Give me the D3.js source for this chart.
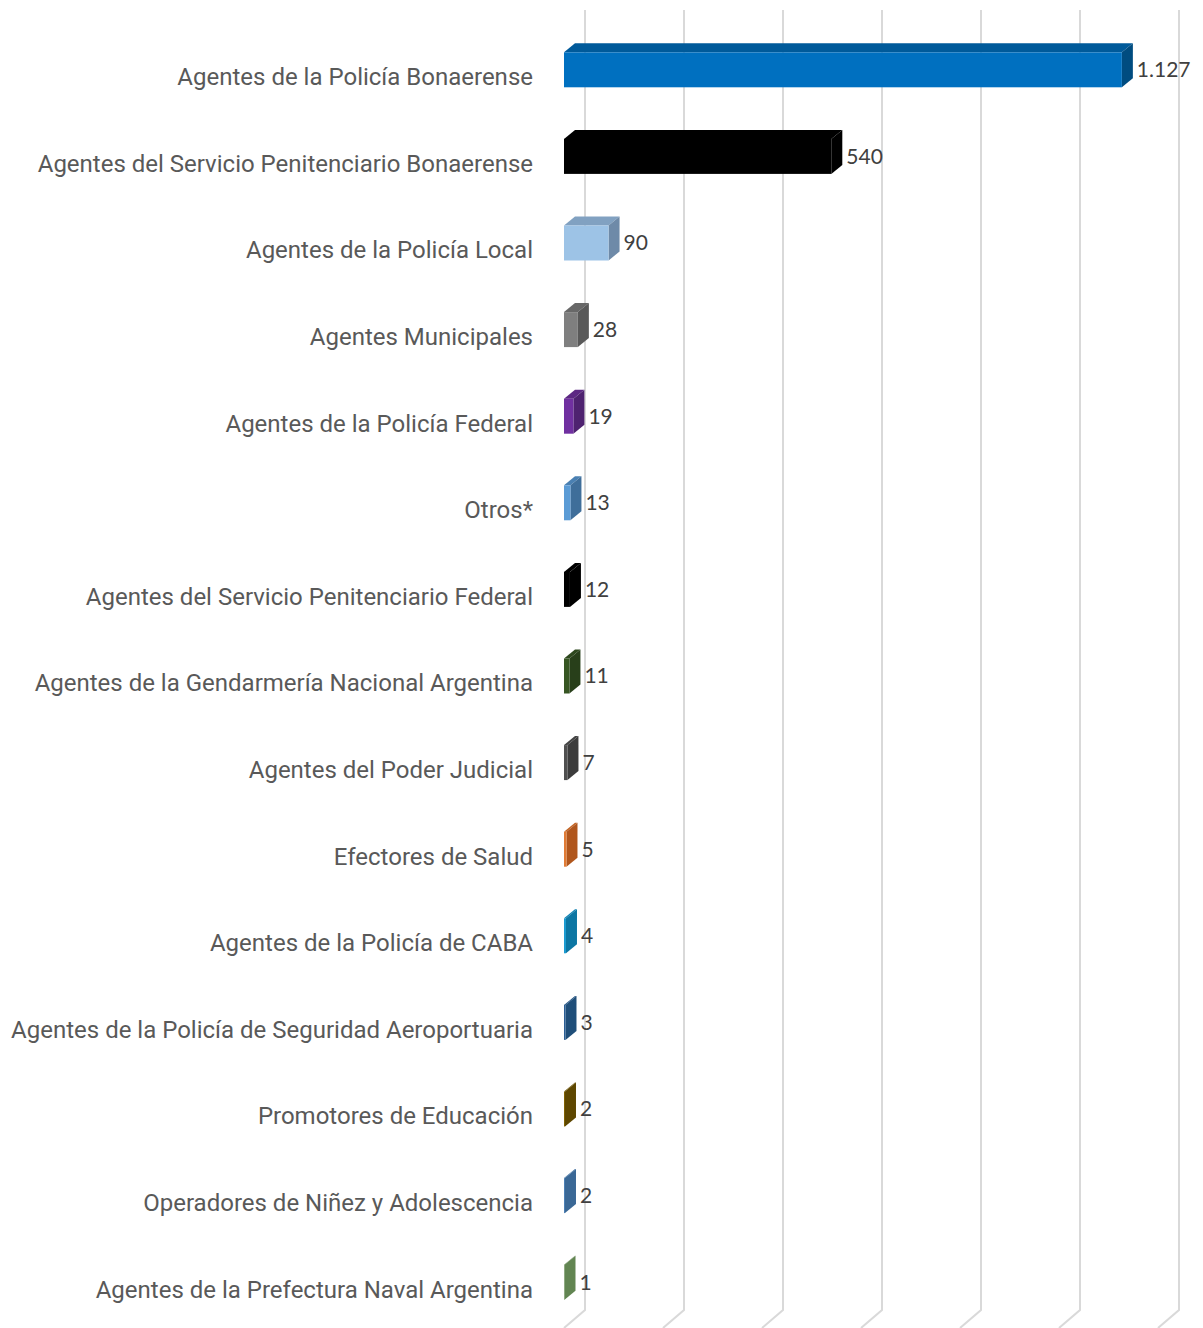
<!DOCTYPE html>
<html>
<head>
<meta charset="utf-8">
<script src="https://cdn.jsdelivr.net/npm/d3@7"></script>
<style>
html,body{margin:0;padding:0;background:#fff;}
svg{display:block;}
</style>
</head>
<body>
<svg id="chart" width="1203" height="1328"></svg>
<script>
const categories = [
  "Agentes de la Policía Bonaerense",
  "Agentes del Servicio Penitenciario Bonaerense",
  "Agentes de la Policía Local",
  "Agentes Municipales",
  "Agentes de la Policía Federal",
  "Otros*",
  "Agentes del Servicio Penitenciario Federal",
  "Agentes de la Gendarmería Nacional Argentina",
  "Agentes del Poder Judicial",
  "Efectores de Salud",
  "Agentes de la Policía de CABA",
  "Agentes de la Policía de Seguridad Aeroportuaria",
  "Promotores de Educación",
  "Operadores de Niñez y Adolescencia",
  "Agentes de la Prefectura Naval Argentina"
];
const values = [1127, 540, 90, 28, 19, 13, 12, 11, 7, 5, 4, 3, 2, 2, 1];
const frontColors = [
  "#0070C0", "#000000", "#9DC3E6", "#7F7F7F", "#7030A0",
  "#5B9BD5", "#000000", "#375623", "#505050", "#E07B35",
  "#1A9AD0", "#2A5E95", "#7F6000", "#4A7FB5", "#70935E"
];
const sideColors = [
  "#004C80", "#000000", "#6E8AA8", "#595959", "#4E2270",
  "#3F6E9A", "#000000", "#283F1A", "#3C3C3C", "#B0561C",
  "#0C76A3", "#1F4E79", "#5E4700", "#3A6896", "#628552"
];
const xTicks = [0, 200, 400, 600, 800, 1000, 1200];

const svg = d3.select("#chart");

const x = d3.scaleLinear().domain([0, 1200]).range([564, 1158]);
const step = 86.6;
const y = d3.scaleBand().domain(categories)
  .range([26.5, 26.5 + categories.length * step])
  .paddingInner(0.596).paddingOuter(0.298);

const wallDX = 21, wallDY = -18;
const gridTop = 10, gridBottom = 1310;
const bDX = 11, bDY = -9;

const fmt = d3.formatLocale({decimal: ",", thousands: ".", grouping: [3], currency: ["$", ""]}).format(",d");

// gridlines (back wall + floor)
svg.append("g").attr("class", "grid")
  .selectAll("path").data(xTicks).join("path")
  .attr("d", t => {
    const bx = x(t) + wallDX;
    return `M${bx},${gridTop}L${bx},${gridBottom}L${x(t)},${gridBottom - wallDY}`;
  })
  .attr("fill", "none")
  .attr("stroke", "#D9D9D9")
  .attr("stroke-width", 2);

// bars
svg.append("g").attr("class", "bars")
  .selectAll("g").data(categories).join("g")
  .each(function(c, i) {
    const g = d3.select(this);
    const x0 = x(0), x1 = x(values[i]);
    const y0 = y(c), y1 = y(c) + y.bandwidth();
    const front = frontColors[i], side = sideColors[i];
    const top = d3.interpolateRgb(front, side)(0.6);
    g.append("path")
      .attr("d", `M${x0},${y0}L${x0 + bDX},${y0 + bDY}L${x1 + bDX},${y0 + bDY}L${x1},${y0}Z`)
      .attr("fill", top);
    g.append("path")
      .attr("d", `M${x1},${y0}L${x1 + bDX},${y0 + bDY}L${x1 + bDX},${y1 + bDY}L${x1},${y1}Z`)
      .attr("fill", side);
    g.append("rect")
      .attr("x", x0).attr("y", y0)
      .attr("width", Math.max(0, x1 - x0)).attr("height", y1 - y0)
      .attr("fill", front);
    g.append("text")
      .attr("x", x1 + bDX + 4)
      .attr("y", (y0 + y1) / 2)
      .attr("dy", "0.35em")
      .attr("font-family", "Lato, 'Open Sans', sans-serif")
      .attr("font-size", 21)
      .attr("fill", "#404040")
      .text(fmt(values[i]));
  });

// category labels
svg.append("g").attr("class", "labels")
  .selectAll("text").data(categories).join("text")
  .attr("x", 533)
  .attr("y", c => y(c) + y.bandwidth() / 2 + 7)
  .attr("dy", "0.35em")
  .attr("text-anchor", "end")
  .attr("font-family", "Roboto, sans-serif")
  .attr("font-size", 24)
  .attr("fill", "#595959")
  .text(c => c);
</script>
</body>
</html>
